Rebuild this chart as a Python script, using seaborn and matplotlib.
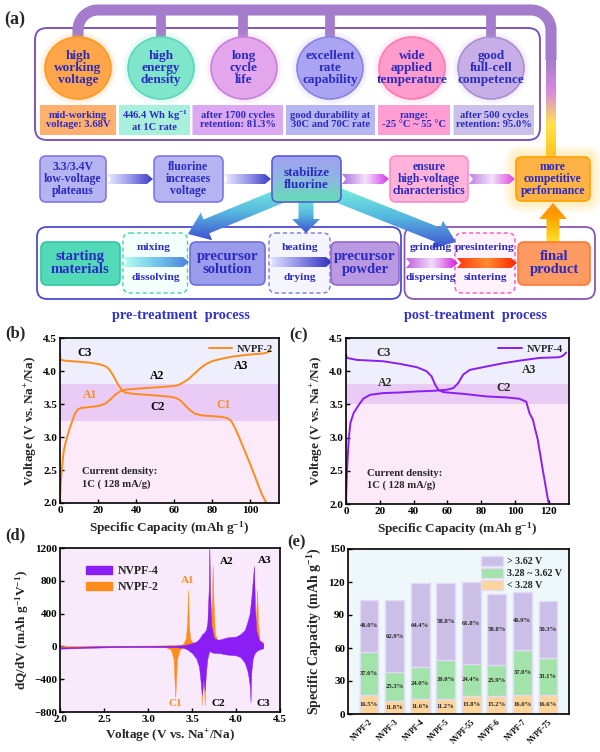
import numpy as np
import pandas as pd
import matplotlib
matplotlib.use("Agg")
import matplotlib.pyplot as plt
import seaborn as sns
from matplotlib.patches import FancyBboxPatch, Ellipse, Polygon, Patch
from matplotlib.colors import to_rgba

# ---------------- data ----------------
# (b) NVPF-2 charge / discharge at 1C
b_chg_cap = [0, 0.4, 0.9, 2.0, 3.5, 5.0, 6.5, 8.0, 9.5, 11, 16, 21, 24, 26.5, 29, 31.5, 35, 42, 52,
             59, 62, 65, 68, 71, 74, 77, 80, 84, 91, 100, 106.5, 109, 110.5]
b_chg_v = [2.05, 2.3, 2.5, 2.8, 2.98, 3.12, 3.25, 3.36, 3.42, 3.44, 3.455, 3.475, 3.51, 3.57, 3.64,
           3.69, 3.72, 3.735, 3.755, 3.77, 3.785, 3.83, 3.89, 3.97, 4.05, 4.11, 4.15, 4.18, 4.22,
           4.25, 4.265, 4.28, 4.31]
b_dis_cap = [0, 0.3, 3, 10, 16, 21, 24, 26, 28, 30, 32, 34, 38, 45, 52, 58, 61, 63.5, 66, 68.5, 71,
             75, 80, 85, 88, 90, 92, 94, 96, 98, 100, 102, 104, 106, 108, 108.4]
b_dis_v = [4.26, 4.17, 4.155, 4.14, 4.125, 4.10, 4.07, 4.02, 3.93, 3.82, 3.73, 3.675, 3.655, 3.64,
           3.625, 3.61, 3.59, 3.55, 3.47, 3.40, 3.35, 3.325, 3.315, 3.305, 3.285, 3.24, 3.13, 3.0,
           2.86, 2.72, 2.58, 2.43, 2.28, 2.13, 2.02, 2.0]

# (c) NVPF-4 charge / discharge at 1C
c_chg_cap = [0, 0.3, 0.6, 1.6, 2.6, 4.5, 7.5, 10.4, 14.3, 22, 32, 42, 52, 59.5, 63.5, 66.4, 69.4,
             73.3, 83, 93, 103, 114.5, 126, 128.3, 130.3]
c_chg_v = [2.05, 2.3, 2.51, 2.97, 3.22, 3.37, 3.49, 3.59, 3.645, 3.67, 3.68, 3.695, 3.705, 3.72,
           3.745, 3.82, 3.95, 4.02, 4.07, 4.12, 4.16, 4.2, 4.21, 4.23, 4.28]
c_dis_cap = [0, 0.5, 6.5, 22, 32, 42, 47.7, 50.7, 52.7, 54.6, 57.6, 71, 83, 95, 102.7, 106.7, 108.6,
             110.6, 113.5, 116.5, 120]
c_dis_v = [4.25, 4.2, 4.17, 4.15, 4.11, 4.06, 4.0, 3.92, 3.80, 3.72, 3.685, 3.655, 3.62, 3.605,
           3.585, 3.54, 3.37, 3.27, 2.97, 2.51, 2.0]

# (d) dQ/dV envelopes (upper, lower) against voltage
d2_v = [2.00, 2.30, 2.60, 3.00, 3.20, 3.26, 3.29, 3.31, 3.33, 3.36, 3.40, 3.43, 3.445, 3.455, 3.465,
        3.48, 3.52, 3.58, 3.60, 3.61, 3.62, 3.635, 3.645, 3.655, 3.68, 3.71, 3.725, 3.735, 3.745,
        3.76, 3.80, 3.90, 4.05, 4.12, 4.145, 4.155, 4.165, 4.19, 4.22, 4.24, 4.25, 4.27, 4.30, 4.31]
d2_up = [5, 5, 8, 10, 12, 15, 15, 15, 15, 15, 30, 100, 300, 690, 250, 90, 30, 20, 20, 20, 20, 20, 20,
         20, 40, 200, 500, 990, 520, 150, 50, 30, 30, 40, 40, 40, 40, 80, 200, 690, 300, 70, 60, 0]
d2_lo = [-25, -12, -5, -5, -10, -40, -150, -620, -150, -40, -15, -10, -10, -10, -10, -10, -10, -60,
         -300, -720, -300, -420, -720, -200, -40, -20, -20, -20, -20, -20, -20, -20, -30, -100, -350,
         -500, -200, -60, -20, -20, -20, -10, -10, 0]
d4_v = [2.00, 2.30, 2.60, 3.00, 3.30, 3.40, 3.45, 3.50, 3.55, 3.58, 3.60, 3.615, 3.63, 3.645, 3.66,
        3.675, 3.69, 3.697, 3.705, 3.72, 3.75, 3.80, 3.90, 4.00, 4.05, 4.10, 4.13, 4.155, 4.165,
        4.175, 4.19, 4.205, 4.215, 4.23, 4.26, 4.29, 4.31]
d4_up = [-12, -2, 5, 8, 10, 15, 25, 40, 60, 90, 120, 150, 160, 180, 200, 300, 700, 1250, 700, 250,
         100, 80, 110, 120, 150, 200, 300, 400, 500, 600, 800, 980, 500, 200, 80, 50, 40]
d4_lo = [-28, -18, -10, -8, -10, -15, -40, -80, -150, -250, -450, -590, -400, -540, -300, -150, -80,
         -60, -60, -70, -80, -80, -100, -110, -130, -200, -300, -450, -683, -300, -150, -100, -80,
         -60, -40, -30, -20]

# (e) capacity split by voltage region
samples = ["NVPF-2", "NVPF-3", "NVPF-4", "NVPF-5", "NVPF-55", "NVPF-6", "NVPF-7", "NVPF-75"]
total_cap = [104.0, 103.3, 119.0, 119.0, 119.7, 109.4, 110.6, 102.4]
pct_low = [16.5, 11.8, 11.6, 11.2, 13.8, 15.2, 16.0, 16.6]
pct_mid = [37.6, 25.3, 24.0, 30.0, 24.4, 25.9, 37.0, 33.1]
pct_high = [46.0, 62.9, 64.4, 58.8, 61.8, 58.8, 46.9, 50.3]

# ---------------- style ----------------
sns.set_theme(style="ticks")
plt.rcParams.update({
    "font.family": ["Liberation Serif", "DejaVu Serif"],
    "font.weight": "bold",
    "axes.labelweight": "bold",
    "mathtext.fontset": "custom",
    "mathtext.rm": "Liberation Serif:bold",
    "mathtext.it": "Liberation Serif:bold",
    "mathtext.bf": "Liberation Serif:bold",
    "axes.linewidth": 1.2,
    "axes.edgecolor": "black",
})

ORANGE = "#FF8C1A"
PURPLE = "#8A1EF5"
TXT = "#2B2BC0"

fig = plt.figure(figsize=(6, 7.52), dpi=100)
fig.patch.set_facecolor("white")

# ---------------- (a) schematic, in pixel coordinates ----------------
ax0 = fig.add_axes([0, 0, 1, 1], zorder=0)
ax0.set_axis_off()


def rbox(x0, y0, x1, y1, fc, ec, lw=1.2, ls="-", r=6, z=2, alpha=1.0):
    p = FancyBboxPatch((x0, y0), x1 - x0, y1 - y0, boxstyle=f"round,pad=0,rounding_size={r}",
                       fc=fc, ec=ec, lw=lw, ls=ls, zorder=z, alpha=alpha)
    ax0.add_patch(p)
    return p


def gradient(patch, box, colors, horiz=True, z=3):
    x0, y0, x1, y1 = box
    cols = np.array([to_rgba(c) for c in colors])
    t = np.linspace(0, 1, 100)
    k = np.linspace(0, 1, len(cols))
    g = np.stack([np.interp(t, k, cols[:, j]) for j in range(4)], axis=1)
    img = g[None, :, :] if horiz else g[:, None, :]
    im = ax0.imshow(img, extent=(x0, x1, y1, y0), aspect="auto", zorder=z, interpolation="bilinear")
    im.set_clip_path(patch)


def chevron(x0, x1, yc, h, colors, z=3):
    pts = [(x0, yc - h / 2), (x1 - h * 0.6, yc - h / 2), (x1, yc), (x1 - h * 0.6, yc + h / 2),
           (x0, yc + h / 2), (x0 + h * 0.4, yc)]
    p = Polygon(pts, closed=True, fc="none", ec="none", zorder=z)
    ax0.add_patch(p)
    gradient(p, (x0, yc - h / 2, x1, yc + h / 2), colors, True, z)


def big_arrow(xs, ys, xe, ye, w, hw, hl, colors, z=2.5):
    s = np.array([xs, ys], float)
    e = np.array([xe, ye], float)
    u = (e - s) / np.hypot(*(e - s))
    n = np.array([-u[1], u[0]])
    b = e - u * hl
    pts = np.array([s + n * w / 2, b + n * w / 2, b + n * hw / 2, e, b - n * hw / 2, b - n * w / 2,
                    s - n * w / 2])
    p = Polygon(pts, closed=True, fc="none", ec="none", zorder=z)
    ax0.add_patch(p)
    gradient(p, (pts[:, 0].min(), pts[:, 1].min(), pts[:, 0].max(), pts[:, 1].max()), colors, False, z)


def T(x, y, s, size, color=TXT, ha="center", z=6):
    ax0.text(x, y, s, ha=ha, va="center", fontsize=size, color=color, fontweight="bold",
             linespacing=1.0, zorder=z)


ax0.text(4, 19, "(a)", fontsize=13, fontweight="bold", va="center", ha="left")

# top bus
BUS = "#A47CCB"
arc = np.linspace(0, np.pi / 2, 20)
bx = np.concatenate([[78], 98 - 20 * np.cos(arc), [531], 531 + 20 * np.sin(arc), [551]])
by = np.concatenate([[40], 30 - 20 * np.sin(arc), [10], 30 - 20 * np.cos(arc), [60]])
ax0.plot(bx, by, color=BUS, lw=8, solid_capstyle="butt", solid_joinstyle="round", zorder=1.5)
for xd in [161, 243, 330, 491]:
    ax0.plot([xd, xd], [10, 40], color=BUS, lw=7, solid_capstyle="butt", zorder=1.5)
pb = rbox(546, 58, 556, 158, "none", "none", lw=0, r=0.1, z=1.5)
gradient(pb, (546, 58, 556, 158), [BUS, "#D98AE0", "#FFE24A", "#FFC21A"], False, 1.5)

# feature box
rbox(35, 28, 540, 140, "white", "#7F55B5", lw=1.4, r=12, z=1)
circ_x = [78, 161, 244, 330, 412, 491]
circ_fc = ["#FFA64A", "#7FE6CC", "#E3A6EC", "#AAA4F2", "#FF9CCB", "#C7AEE6"]
circ_ec = ["#FF9A1F", "#5CD6B8", "#C97FDC", "#8A82E4", "#FF7AB4", "#A88FD6"]
circ_txt = ["high\nworking\nvoltage", "high\nenergy\ndensity", "long\ncycle\nlife",
            "excellent\nrate\ncapability", "wide\napplied\ntemperature", "good\nfull-cell\ncompetence"]
for cx, fc, ec, s in zip(circ_x, circ_fc, circ_ec, circ_txt):
    for k in range(5):
        ax0.add_patch(Ellipse((cx, 68), 66 + 3 * k, 62 + 3 * k, fc=fc, ec="none", alpha=0.06, zorder=1.8))
    ax0.add_patch(Ellipse((cx, 68), 66, 62, fc=fc, ec=ec, lw=1.2, zorder=2))
    T(cx, 68, s, 9.5)
info_x = [(40, 116), (119, 190), (192.5, 283), (286, 375), (378, 450), (453.5, 534)]
info_fc = ["#FFAF6E", "#A9F0DC", "#DDA8F2", "#B8B6F2", "#FF9ED3", "#CBC0EA"]
info_txt = ["mid-working\nvoltage: 3.68V", "446.4 Wh kg$^{-1}$\nat 1C rate",
            "after 1700 cycles\nretention: 81.3%", "good durability at\n30C and 70C rate",
            "range:\n-25 \u00b0C ~ 55 \u00b0C", "after 500 cycles\nretention: 95.0%"]
for (x0, x1), fc, s in zip(info_x, info_fc, info_txt):
    rbox(x0, 105, x1, 135, fc, "none", lw=0, r=0.5, z=2)
    T((x0 + x1) / 2, 120, s, 7.6)

# second row
rbox(40, 156, 106, 202, "#B5B3F2", "#7E78E6", r=6, z=3)
T(73, 179, "3.3/3.4V\nlow-voltage\nplateaus", 8.5)
rbox(154, 156, 223, 202, "#B5B3F2", "#7E78E6", r=6, z=3)
T(188.5, 179, "fluorine\nincreases\nvoltage", 8.5)
ps = rbox(272, 156, 341, 202, "none", "#5A5AD2", r=6, z=3.2)
gradient(ps, (272, 156, 341, 202), ["#A2A0F2", "#8CB8E0", "#62E0B4"], False, 3)
T(306.5, 179, "stabilize\nfluorine", 9.5)
rbox(390, 156, 468, 202, "#FFB3DA", "#FF8CC6", r=6, z=3)
T(429, 179, "ensure\nhigh-voltage\ncharacteristics", 8.5)
for k in range(7):
    rbox(516 - 2 * k, 157 - 2 * k, 590 + 2 * k, 201 + 2 * k, "#FFD24D", "none", lw=0, r=6 + 2 * k,
         z=2.6, alpha=0.07)
rbox(516, 157, 590, 201, "#FFB347", "#FFA000", r=6, z=3)
T(553, 179, "more\ncompetitive\nperformance", 8.5)
chevron(107, 153, 179, 10, ["#ECEBFF", "#9A9AEA", "#3A3AC8"])
chevron(224, 271, 179, 10, ["#ECEBFF", "#9A9AEA", "#3A3AC8"])
chevron(342, 389, 179, 10, ["#B070E0", "#F3E3FA", "#D535E8"])
chevron(469, 515, 179, 10, ["#C080E0", "#F3E3FA", "#E040E0"])

# big arrows from "stabilize fluorine"
TEAL = ["#7AF2DA", "#55B8E0", "#4050D0"]
big_arrow(290, 192, 188, 234, 15, 30, 20, TEAL)
big_arrow(306, 195, 306, 233, 15, 28, 14, TEAL)
big_arrow(330, 192, 456, 242, 15, 30, 20, TEAL)
big_arrow(553, 242, 553, 203, 13, 28, 16, ["#FF7A00", "#FFB000", "#FFE030"], z=2.4)

# third row
rbox(37, 227, 401, 299, "white", "#4B4BD0", lw=1.3, r=10, z=1)
rbox(404.5, 227, 595, 299, "white", "#8A55B8", lw=1.3, r=10, z=1)
rbox(41, 242, 120, 285, "#52D9B8", "#2FC7A0", r=6, z=3)
T(80.5, 263, "starting\nmaterials", 10.5)
rbox(123, 233, 187.5, 293, "#F2FFFB", "#45D3B0", lw=1.0, ls=(0, (3, 2)), r=7, z=2.2)
chevron(123, 189, 262, 10, ["#B8FFF0", "#70C8E8", "#5080E0"])
T(154, 248, "mixing", 8.2)
T(156, 278, "dissolving", 8.2)
rbox(190, 242, 265, 285, "#9C9CEC", "#6F6FDA", r=6, z=3)
T(227.5, 263, "precursor\nsolution", 10.5)
rbox(269, 233, 330, 293, "#F5F5FF", "#7A7AD8", lw=1.0, ls=(0, (3, 2)), r=7, z=2.2)
chevron(269, 332, 262, 10, ["#E6E6FF", "#8A8AE6", "#3030C0"])
T(300, 248, "heating", 8.2)
T(300, 278, "drying", 8.2)
rbox(331, 242, 399, 285, "#B99AE2", "#9468C8", r=6, z=3)
T(365, 263, "precursor\npowder", 10.5)
rbox(455, 233, 515, 293, "#FFF2FB", "#FF4FC8", lw=1.0, ls=(0, (3, 2)), r=7, z=2.2)
chevron(406, 458, 263, 10, ["#C060E0", "#F2DCF8", "#D020E0"])
chevron(457, 517, 263, 10, ["#FF3A10", "#FF8A30", "#FF2400"])
T(430.5, 248, "grinding", 8.2)
T(430.5, 278, "dispersing", 8.2)
T(485, 248, "presintering", 8.2)
T(485, 278, "sintering", 8.2)
rbox(518, 242, 590, 285, "#FF9A62", "#FF7A33", r=6, z=3)
T(554, 263, "final\nproduct", 10.5)
T(181, 316, "pre-treatment  process", 10.3, color="#3232C8")
T(476, 316, "post-treatment  process", 10.3, color="#3232C8")

ax0.set_xlim(0, 600)
ax0.set_ylim(752, 0)


# ---------------- data panels ----------------
def fax(l, t, r, b):
    return fig.add_axes([l / 600, 1 - b / 752, (r - l) / 600, (b - t) / 752], zorder=2)


def style(ax):
    for s in ax.spines.values():
        s.set_linewidth(1.2)
        s.set_color("black")
    ax.tick_params(direction="in", length=3, width=1, labelsize=8, pad=2, colors="black")


def volt_panel(ax, band):
    ax.axhspan(3.8, 4.5, color="#EEEEFC", lw=0, zorder=0)
    ax.axhspan(band, 3.8, color="#E9CBF6", lw=0, zorder=0)
    ax.axhspan(2.0, band, color="#FCEAF9", lw=0, zorder=0)
    ax.set_ylim(2.0, 4.5)
    ax.set_yticks([2.0, 2.5, 3.0, 3.5, 4.0, 4.5])
    ax.yaxis.set_major_formatter(matplotlib.ticker.FormatStrFormatter("%.1f"))
    ax.set_xlabel("Specific Capacity (mAh g$^{-1}$)", fontsize=9.5, labelpad=3)
    ax.set_ylabel("Voltage (V vs. Na$^{+}$/Na)", fontsize=9.5, labelpad=3)
    style(ax)


# (b)
axb = fax(60, 338, 279, 503)
sns.lineplot(x=b_chg_cap, y=b_chg_v, ax=axb, color=ORANGE, lw=1.4, sort=False, estimator=None,
             label="NVPF-2")
sns.lineplot(x=b_dis_cap, y=b_dis_v, ax=axb, color=ORANGE, lw=1.4, sort=False, estimator=None)
volt_panel(axb, 3.25)
axb.set_xlim(0, 115)
axb.set_xticks([0, 20, 40, 60, 80, 100])
axb.legend(loc="upper right", frameon=False, fontsize=7.5, handlelength=2.3, borderaxespad=0.2,
           handletextpad=0.4)
for x, y, s, c in [(13, 4.27, "C3", "black"), (51, 3.92, "A2", "black"), (95, 4.07, "A3", "black"),
                   (16, 3.63, "A1", ORANGE), (51, 3.46, "C2", "black"), (86, 3.49, "C1", ORANGE)]:
    axb.text(x, y, s, fontsize=8.5, color=c, ha="center", va="center", fontweight="bold")
axb.text(11.5, 2.48, "Current density:", fontsize=7.7, va="center")
axb.text(11.5, 2.28, "1C ( 128 mA/g)", fontsize=7.7, va="center")

# (c)
axc = fax(346, 338, 569, 504)
sns.lineplot(x=c_chg_cap, y=c_chg_v, ax=axc, color=PURPLE, lw=1.4, sort=False, estimator=None,
             label="NVPF-4")
sns.lineplot(x=c_dis_cap, y=c_dis_v, ax=axc, color=PURPLE, lw=1.4, sort=False, estimator=None)
volt_panel(axc, 3.5)
axc.set_xlim(0, 132)
axc.set_xticks([0, 20, 40, 60, 80, 100, 120])
axc.legend(loc="upper right", frameon=False, fontsize=7.5, handlelength=2.3, borderaxespad=0.2,
           handletextpad=0.4)
for x, y, s in [(22, 4.27, "C3"), (23, 3.82, "A2"), (93, 3.745, "C2"), (108.5, 4.02, "A3")]:
    axc.text(x, y, s, fontsize=8.5, ha="center", va="center", fontweight="bold")
axc.text(12.4, 2.46, "Current density:", fontsize=7.7, va="center")
axc.text(12.4, 2.29, "1C ( 128 mA/g)", fontsize=7.7, va="center")

# (d)
axd = fax(60, 548, 280, 712)
axd.set_facecolor("#F8EAFB")
axd.fill_between(d2_v, d2_lo, d2_up, color=ORANGE, lw=0.3, zorder=2)
axd.fill_between(d4_v, d4_lo, d4_up, color=PURPLE, lw=0.3, zorder=3)
axd.set_xlim(2.0, 4.5)
axd.set_ylim(-800, 1200)
axd.set_xticks([2.0, 2.5, 3.0, 3.5, 4.0, 4.5])
axd.set_yticks([-800, -400, 0, 400, 800, 1200])
axd.xaxis.set_major_formatter(matplotlib.ticker.FormatStrFormatter("%.1f"))
axd.set_xlabel("Voltage (V vs. Na$^{+}$/Na)", fontsize=9.5, labelpad=3)
axd.set_ylabel("dQ/dV (mAh g$^{-1}$V$^{-1}$)", fontsize=9.5, labelpad=2)
style(axd)
axd.legend(handles=[Patch(color=PURPLE, label="NVPF-4"), Patch(color=ORANGE, label="NVPF-2")],
           loc="upper left", bbox_to_anchor=(0.09, 0.93), frameon=False, fontsize=8.5, borderpad=0,
           handlelength=2.2, handletextpad=0.5, labelspacing=0.3)
for x, y, s, c in [(3.45, 800, "A1", ORANGE), (3.89, 1040, "A2", "black"), (4.33, 1050, "A3", "black"),
                   (3.31, -700, "C1", ORANGE), (3.80, -700, "C2", "black"), (4.31, -700, "C3", "black")]:
    axd.text(x, y, s, fontsize=8, color=c, ha="center", va="center", fontweight="bold", zorder=4)

# (e)
axe = fax(348, 549, 569, 714)
axe.set_facecolor("#EEF8FA")
cap = pd.DataFrame({"sample": samples, "total": total_cap, "low": pct_low, "mid": pct_mid,
                    "high": pct_high})
cap["low_cap"] = cap["total"] * cap["low"] / 100
cap["mid_top"] = cap["low_cap"] + cap["total"] * cap["mid"] / 100
C_HIGH, C_MID, C_LOW = "#CBBFE8", "#A2E3AA", "#FDD49C"
sns.barplot(data=cap, x="sample", y="total", color=C_HIGH, saturation=1, width=0.74,
            edgecolor="#E2DAF6", linewidth=1, ax=axe)
sns.barplot(data=cap, x="sample", y="mid_top", color=C_MID, saturation=1, width=0.74,
            edgecolor="#E2DAF6", linewidth=1, ax=axe)
sns.barplot(data=cap, x="sample", y="low_cap", color=C_LOW, saturation=1, width=0.74,
            edgecolor="#E2DAF6", linewidth=1, ax=axe)
for i, r in cap.iterrows():
    axe.text(i, r["low_cap"] / 2, f"{r['low']:.1f}%", fontsize=4.8, ha="center", va="center")
    axe.text(i, (r["low_cap"] + r["mid_top"]) / 2, f"{r['mid']:.1f}%", fontsize=4.8, ha="center",
             va="center")
    axe.text(i, (r["mid_top"] + r["total"]) / 2, f"{r['high']:.1f}%", fontsize=4.8, ha="center",
             va="center")
axe.set_xlim(-0.82, 7.82)
axe.set_ylim(0, 150)
axe.set_yticks([0, 30, 60, 90, 120, 150])
axe.set_xlabel("")
axe.set_ylabel("Specific Capacity (mAh g$^{-1}$)", fontsize=10, labelpad=3)
style(axe)
axe.tick_params(axis="x", labelsize=5.5, length=0, pad=3)
for lab in axe.get_xticklabels():
    lab.set_rotation(45)
    lab.set_ha("right")
    lab.set_rotation_mode("anchor")
axe.legend(handles=[Patch(fc=C_HIGH, ec="#E2DAF6", label="> 3.62 V"),
                    Patch(fc=C_MID, ec="#E2DAF6", label="3.28 ~ 3.62 V"),
                    Patch(fc=C_LOW, ec="#E2DAF6", label="< 3.28 V")],
           loc="upper right", frameon=False, fontsize=7.2, borderaxespad=0.3, handlelength=2.2,
           handleheight=1.2, handletextpad=0.4, labelspacing=0.15)

# panel letters
for x, y, s in [(5, 333, "(b)"), (289, 335, "(c)"), (5, 535, "(d)"), (287, 542, "(e)")]:
    fig.text(x / 600, 1 - y / 752, s, fontsize=12, fontweight="bold", va="center", ha="left")

fig.savefig("out.png", dpi=100)
